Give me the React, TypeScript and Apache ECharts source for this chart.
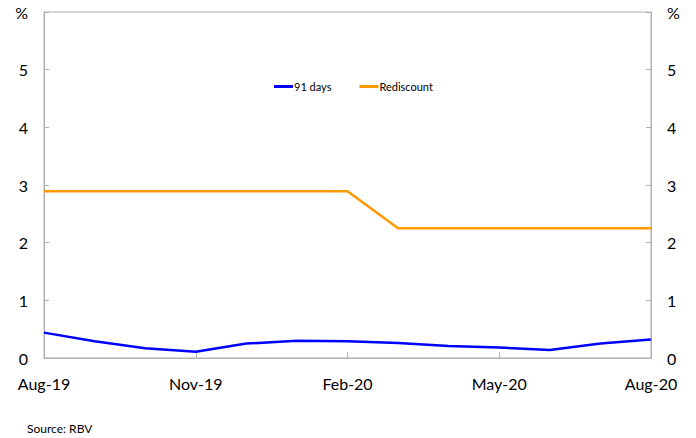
import React, { useEffect, useRef } from "react";
import * as echarts from "echarts";

const categories = ["Aug-19", "Sep-19", "Oct-19", "Nov-19", "Dec-19", "Jan-20", "Feb-20", "Mar-20", "Apr-20", "May-20", "Jun-20", "Jul-20", "Aug-20"];
const days91 = [0.44, 0.29, 0.17, 0.11, 0.25, 0.3, 0.29, 0.26, 0.21, 0.18, 0.14, 0.25, 0.32];
const rediscount = [2.89, 2.89, 2.89, 2.89, 2.89, 2.89, 2.89, 2.25, 2.25, 2.25, 2.25, 2.25, 2.25];
const yTicks = [0, 1, 2, 3, 4, 5, 6];

const FONT = "Lato, 'Noto Sans', sans-serif";

export default function App() {
  const ref = useRef<HTMLDivElement>(null);
  useEffect(() => {
    const chart = echarts.init(ref.current!, null, { renderer: "svg" });
    const yLabel = (v: number) => (v === yTicks[yTicks.length - 1] ? "%" : String(v));
    const yAxisBase = {
      type: "value",
      min: yTicks[0],
      max: yTicks[yTicks.length - 1],
      interval: 1,
      splitLine: { show: false },
      axisLine: { show: true, lineStyle: { color: "#b0b0b0", width: 1 } },
      axisTick: { show: true, inside: true, length: 5, lineStyle: { color: "#b0b0b0" } },
      axisLabel: { color: "#000", fontSize: 16, fontFamily: FONT, formatter: yLabel, margin: 16 },
    };
    chart.setOption({
      animation: false,
      backgroundColor: "#fff",
      grid: { left: 44, right: 45, top: 12, bottom: 80, show: true, borderColor: "#b0b0b0", borderWidth: 1 },
      legend: {
        top: 76,
        left: 269,
        itemWidth: 19,
        itemHeight: 3,
        itemGap: 28,
        icon: "rect",
        textStyle: { fontSize: 11, fontFamily: FONT, color: "#000", padding: [0, 0, 0, -4] },
        data: ["91 days", "Rediscount"],
      },
      xAxis: {
        type: "category",
        data: categories,
        boundaryGap: false,
        axisLine: { show: true, lineStyle: { color: "#b0b0b0" } },
        axisTick: { show: true, inside: true, length: 6, interval: 2, lineStyle: { color: "#b0b0b0" } },
        axisLabel: { interval: 2, color: "#000", fontSize: 16, fontFamily: FONT, margin: 17 },
      },
      yAxis: [
        { ...yAxisBase, position: "left" },
        { ...yAxisBase, position: "right" },
      ],
      graphic: [
        { type: "text", left: 27, top: 422, style: { text: "Source: RBV", fontSize: 12, fontFamily: FONT, fill: "#000" } },
      ],
      series: [
        { name: "91 days", type: "line", data: days91, symbol: "none", lineStyle: { color: "#0000ff", width: 2.5 }, itemStyle: { color: "#0000ff" } },
        { name: "Rediscount", type: "line", data: rediscount, symbol: "none", lineStyle: { color: "#ff9900", width: 2.5 }, itemStyle: { color: "#ff9900" } },
      ],
    });
    return () => chart.dispose();
  }, []);
  return <div ref={ref} style={{ width: 696, height: 438, position: "absolute", left: 0, top: 0 }} />;
}
